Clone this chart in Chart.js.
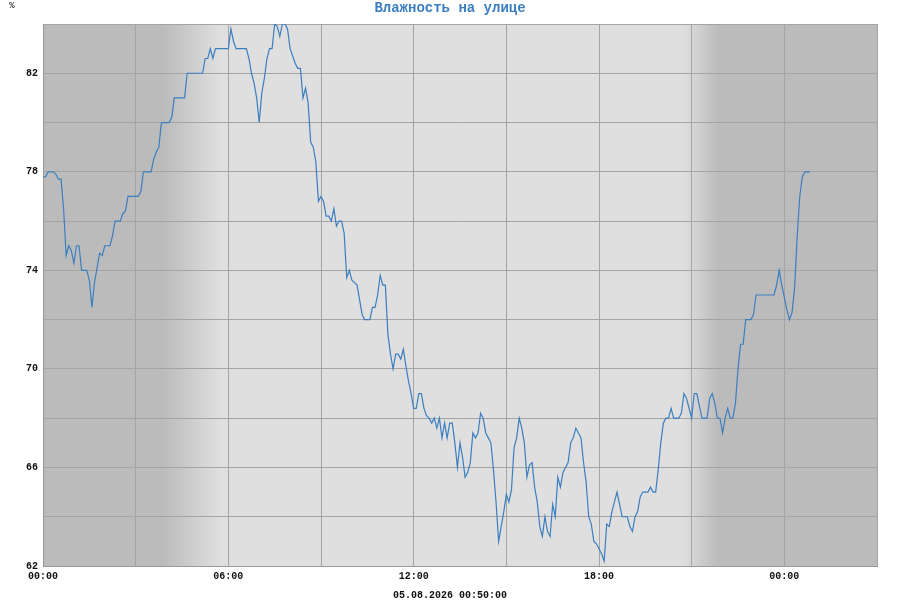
<!DOCTYPE html>
<html lang="ru">
<head>
<meta charset="utf-8">
<script src="https://cdn.jsdelivr.net/npm/chart.js@4.4.1/dist/chart.umd.min.js"></script>
<style>
  html, body { margin: 0; padding: 0; background: #ffffff; }
</style>
</head>
<body>
<canvas id="humChart" width="900" height="600"></canvas>
<script>
// readings every 5 minutes from 00:00 (humidity, %)
const stepMinutes = 5;
const humidity = [
  77.8, 77.8, 78.0, 78.0, 78.0, 77.9, 77.7, 77.7, 76.5, 74.6,
  75.0, 74.8, 74.3, 75.0, 75.0, 74.0, 74.0, 74.0, 73.6, 72.5,
  73.5, 74.1, 74.7, 74.6, 75.0, 75.0, 75.0, 75.4, 76.0, 76.0,
  76.0, 76.3, 76.4, 77.0, 77.0, 77.0, 77.0, 77.0, 77.2, 78.0,
  78.0, 78.0, 78.0, 78.5, 78.8, 79.0, 80.0, 80.0, 80.0, 80.0,
  80.2, 81.0, 81.0, 81.0, 81.0, 81.0, 82.0, 82.0, 82.0, 82.0,
  82.0, 82.0, 82.0, 82.6, 82.6, 83.0, 82.6, 83.0, 83.0, 83.0,
  83.0, 83.0, 83.0, 83.8, 83.3, 83.0, 83.0, 83.0, 83.0, 83.0,
  82.6, 82.0, 81.6, 81.0, 80.0, 81.2, 81.8, 82.6, 83.0, 83.0,
  84.0, 83.9, 83.5, 84.0, 84.0, 83.8, 83.0, 82.7, 82.4, 82.2,
  82.2, 81.0, 81.4, 80.8, 79.2, 79.0, 78.4, 76.8, 77.0, 76.8,
  76.2, 76.2, 76.0, 76.5, 75.8, 76.0, 76.0, 75.5, 73.7, 74.0,
  73.6, 73.5, 73.4, 72.8, 72.2, 72.0, 72.0, 72.0, 72.5, 72.5,
  73.0, 73.8, 73.4, 73.4, 71.4, 70.6, 70.0, 70.6, 70.6, 70.4,
  70.8, 70.1, 69.5, 69.0, 68.4, 68.4, 69.0, 69.0, 68.4, 68.1,
  68.0, 67.8, 68.0, 67.6, 68.0, 67.2, 67.8, 67.2, 67.8, 67.8,
  67.0, 66.0, 67.0, 66.4, 65.6, 65.8, 66.2, 67.4, 67.2, 67.4,
  68.2, 68.0, 67.4, 67.2, 67.0, 65.9, 64.6, 63.0, 63.6, 64.2,
  64.9, 64.6, 65.1, 66.8, 67.2, 68.0, 67.6, 67.0, 65.6, 66.1,
  66.2, 65.2, 64.6, 63.6, 63.2, 64.0, 63.4, 63.2, 64.5, 64.0,
  65.6, 65.2, 65.8, 66.0, 66.2, 67.0, 67.2, 67.6, 67.4, 67.2,
  66.2, 65.4, 64.0, 63.7, 63.0, 62.9, 62.7, 62.5, 62.2, 63.7,
  63.6, 64.2, 64.6, 65.0, 64.5, 64.0, 64.0, 64.0, 63.6, 63.4,
  64.0, 64.2, 64.8, 65.0, 65.0, 65.0, 65.2, 65.0, 65.0, 65.9,
  67.0, 67.8, 68.0, 68.0, 68.4, 68.0, 68.0, 68.0, 68.2, 69.0,
  68.8, 68.4, 68.0, 69.0, 69.0, 68.5, 68.0, 68.0, 68.0, 68.8,
  69.0, 68.6, 68.0, 68.0, 67.4, 68.0, 68.4, 68.0, 68.0, 68.6,
  70.0, 71.0, 71.0, 72.0, 72.0, 72.0, 72.2, 73.0, 73.0, 73.0,
  73.0, 73.0, 73.0, 73.0, 73.0, 73.4, 74.0, 73.4, 72.9, 72.4,
  72.0, 72.3, 73.3, 75.4, 77.0, 77.8, 78.0, 78.0, 78.0
];
const xTickLabels = ['00:00', '06:00', '12:00', '18:00', '00:00'];
const yTickLabels = [62, 66, 70, 74, 78, 82];
const chartTitle = 'Влажность на улице';
const dateLabel = '05.08.2026 00:50:00';

// dawn / dusk in minutes (shading of the plot background)
const dawnFrom = 233, dawnTo = 344;
const duskFrom = 1244, duskTo = 1312;

const points = humidity.map((v, i) => ({ x: i * stepMinutes, y: v }));

const dark = '#bbbbbb', light = '#dfdfdf';
const mono = '"Liberation Mono", "DejaVu Sans Mono", monospace';

const dayNight = {
  id: 'dayNight',
  beforeDraw(chart) {
    const { ctx, chartArea: a, scales: { x } } = chart;
    const px = v => Math.round(x.getPixelForValue(v));
    const x1 = px(dawnFrom), x2 = px(dawnTo), x3 = px(duskFrom), x4 = px(duskTo);
    ctx.save();
    ctx.fillStyle = dark;
    ctx.fillRect(a.left, a.top, a.width, a.height);
    ctx.fillStyle = light;
    ctx.fillRect(x1, a.top, x4 - x1, a.height);
    let g = ctx.createLinearGradient(x1, 0, x2, 0);
    g.addColorStop(0, dark); g.addColorStop(1, light);
    ctx.fillStyle = g;
    ctx.fillRect(x1, a.top, x2 - x1, a.height);
    g = ctx.createLinearGradient(x3, 0, x4, 0);
    g.addColorStop(0, light); g.addColorStop(1, dark);
    ctx.fillStyle = g;
    ctx.fillRect(x3, a.top, x4 - x3, a.height);
    ctx.restore();
  },
  afterDraw(chart) {
    const { ctx, width } = chart;
    ctx.save();
    ctx.textAlign = 'center';
    ctx.textBaseline = 'middle';
    ctx.fillStyle = '#3b7fc0';
    ctx.font = 'bold 14px ' + mono;
    ctx.fillText(chartTitle, width / 2, 8);
    ctx.fillStyle = '#111111';
    ctx.font = 'bold 10px ' + mono;
    ctx.fillText(dateLabel, width / 2, 595);
    ctx.fillStyle = '#333333';
    ctx.font = 'bold 9px ' + mono;
    ctx.fillText('%', 12, 6);
    ctx.restore();
  }
};

new Chart(document.getElementById('humChart').getContext('2d'), {
  type: 'line',
  data: {
    datasets: [{
      label: 'Влажность',
      data: points,
      borderColor: '#3b7fc0',
      borderWidth: 1.2,
      pointRadius: 0,
      fill: false,
      tension: 0
    }]
  },
  options: {
    responsive: false,
    animation: false,
    devicePixelRatio: 1,
    layout: { padding: { left: 0, right: 23, top: 24, bottom: 0 } },
    plugins: {
      legend: { display: false },
      tooltip: { enabled: false },
      title: { display: false }
    },
    scales: {
      x: {
        type: 'linear',
        min: 0,
        max: 1620,
        afterFit: s => { s.height = 34; },
        grid: { color: '#a4a4a4', lineWidth: 1, drawTicks: false },
        border: { color: '#999999' },
        ticks: {
          stepSize: 180,
          autoSkip: false,
          maxRotation: 0,
          padding: 4,
          color: '#111111',
          font: { family: mono, size: 10, weight: 'bold' },
          callback: v => (v % 360 === 0 ? xTickLabels[v / 360] : '')
        }
      },
      y: {
        min: 62,
        max: 84,
        afterFit: s => { s.width = 43; },
        grid: { color: '#a4a4a4', lineWidth: 1, drawTicks: false },
        border: { color: '#999999' },
        ticks: {
          stepSize: 2,
          padding: 5,
          color: '#111111',
          font: { family: mono, size: 10, weight: 'bold' },
          callback: v => (yTickLabels.includes(v) ? String(v) : '')
        }
      }
    }
  },
  plugins: [dayNight]
});
</script>
</body>
</html>
